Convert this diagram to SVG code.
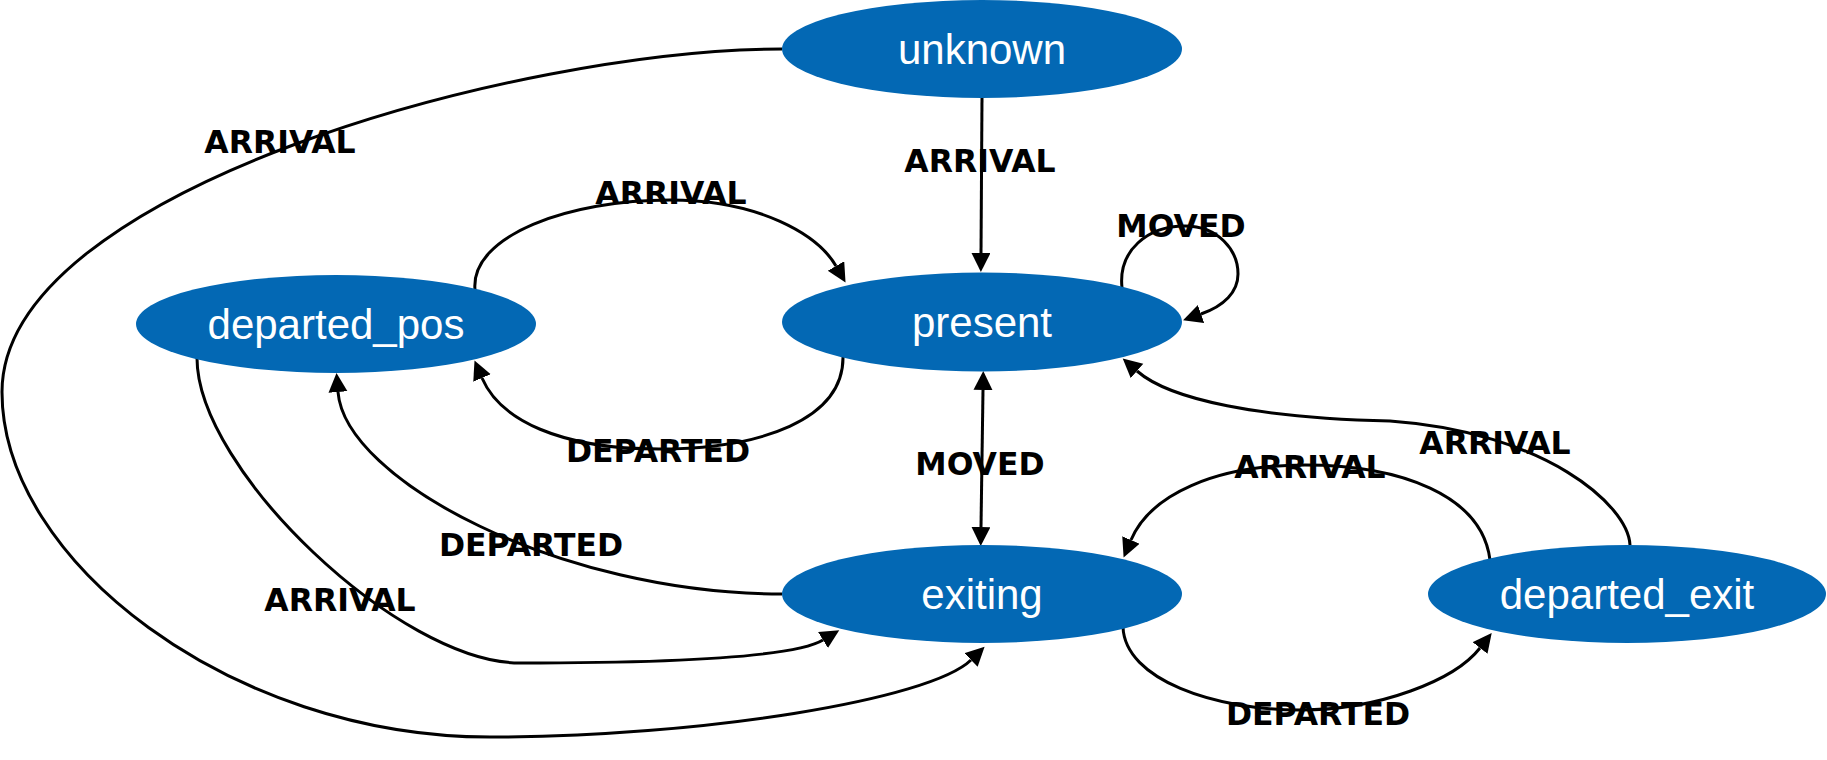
<svg xmlns="http://www.w3.org/2000/svg" width="1827" height="760" viewBox="0 0 1827 760">
<style>
.node ellipse{fill:#0368B4;stroke:none}
.node text{font-family:"Liberation Sans",Arial,sans-serif;font-size:42px;fill:#ffffff;text-anchor:middle}
.edge path{fill:none;stroke:#000;stroke-width:3}
.lbl{font-family:"DejaVu Sans",sans-serif;font-weight:bold;font-size:31.5px;fill:#000;text-anchor:middle}
</style>
<defs>
<marker id="arr" markerUnits="userSpaceOnUse" markerWidth="21" markerHeight="21" refX="0" refY="9.5" orient="auto-start-reverse">
<path d="M0,0 L19,9.5 L0,19 z" fill="#000"/>
</marker>
</defs>
<g id="connectors" class="edge">
<path id="e_unknown_present" d="M982,98 L981,253" marker-end="url(#arr)"/>
<path id="e_unknown_exiting" d="M782,49 C520,49 2,190 2,392 C2,560 230,737 490,737 C700,737 930,700 971,660" marker-end="url(#arr)"/>
<path id="e_present_present" d="M1122,288 C1118,250 1148,226 1185,226 C1218,226 1238,250 1238,274 C1238,292 1224,306 1201,314" marker-end="url(#arr)"/>
<path id="e_dpos_present" d="M475,290 C470,235 570,200 670,200 C760,200 818,235 836,266" marker-end="url(#arr)"/>
<path id="e_present_dpos" d="M843,355 C845,420 760,449 659,449 C560,449 500,420 482,378" marker-end="url(#arr)"/>
<path id="e_present_exiting" d="M983,390 L981,527" marker-start="url(#arr)" marker-end="url(#arr)"/>
<path id="e_exiting_dpos" d="M782,594 C560,594 345,480 338,392" marker-end="url(#arr)"/>
<path id="e_dpos_exiting" d="M197,358 C197,470 400,663 520,663 C680,663 795,657 823,640" marker-end="url(#arr)"/>
<path id="e_dexit_exiting" d="M1490,560 C1482,495 1400,465 1305,465 C1215,465 1150,495 1131,540" marker-end="url(#arr)"/>
<path id="e_exiting_dexit" d="M1123,627 C1125,680 1215,710 1300,710 C1380,710 1455,680 1480,648" marker-end="url(#arr)"/>
<path id="e_dexit_present" d="M1630,545 C1628,505 1545,432 1390,421 C1260,418 1170,400 1137,371" marker-end="url(#arr)"/>
</g>
<g id="edge-labels">
<text class="lbl" x="980" y="172">ARRIVAL</text>
<text class="lbl" x="280" y="153">ARRIVAL</text>
<text class="lbl" x="671" y="204">ARRIVAL</text>
<text class="lbl" x="1181" y="237">MOVED</text>
<text class="lbl" x="658" y="462">DEPARTED</text>
<text class="lbl" x="980" y="475">MOVED</text>
<text class="lbl" x="531" y="556">DEPARTED</text>
<text class="lbl" x="340" y="611">ARRIVAL</text>
<text class="lbl" x="1310" y="478">ARRIVAL</text>
<text class="lbl" x="1495" y="454">ARRIVAL</text>
<text class="lbl" x="1318" y="725">DEPARTED</text>
</g>
<g id="unknown" class="node"><ellipse cx="982" cy="49" rx="200" ry="49"/><text x="982" y="64">unknown</text></g>
<g id="present" class="node"><ellipse cx="982" cy="322" rx="200" ry="49.5"/><text x="982" y="337">present</text></g>
<g id="departed_pos" class="node"><ellipse cx="336" cy="324" rx="200" ry="49"/><text x="336" y="339">departed_pos</text></g>
<g id="exiting" class="node"><ellipse cx="982" cy="594" rx="200" ry="49"/><text x="982" y="609">exiting</text></g>
<g id="departed_exit" class="node"><ellipse cx="1627" cy="594" rx="199" ry="49"/><text x="1627" y="609">departed_exit</text></g>
</svg>
